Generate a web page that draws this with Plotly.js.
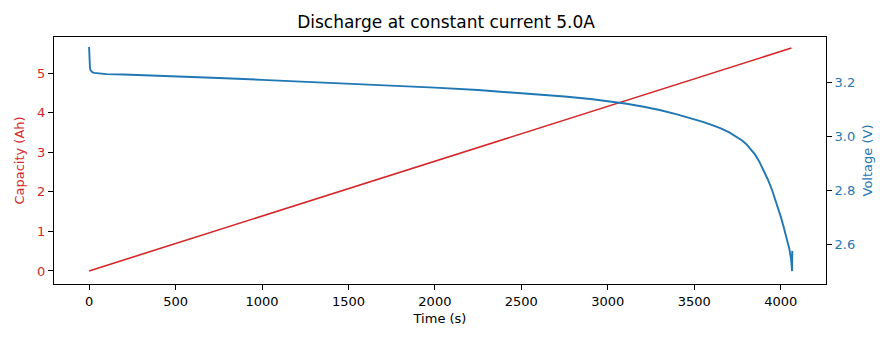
<!DOCTYPE html>
<html>
<head>
<meta charset="utf-8">
<script src="https://cdn.plot.ly/plotly-3.0.1.min.js"></script>
<style>html,body{margin:0;padding:0;background:#fff}#chart{width:892px;height:340px}</style>
</head>
<body>
<div id="chart"></div>
<script>
// Capacity (Ah) vs time (s)
const capTime = [0, 1000, 2000, 3000, 4062];
const capValues = [0, 1.39, 2.78, 4.17, 5.64];

// Voltage (V) vs time (s)
const voltTime = [0, 1, 2, 3, 5, 8, 12, 20, 30, 40, 70, 100, 200, 300, 500, 750, 1000, 1250, 1500, 1750, 2000, 2250, 2500, 2750, 2900, 3000, 3100, 3200, 3300, 3400, 3500, 3550, 3600, 3650, 3700, 3750, 3775, 3800, 3825, 3850, 3875, 3900, 3925, 3950, 3975, 4000, 4015, 4030, 4040, 4050, 4060, 4066, 4067];
const voltValues = [3.332, 3.300, 3.280, 3.266, 3.254, 3.246, 3.242, 3.238, 3.236, 3.235, 3.233, 3.231, 3.230, 3.228, 3.224, 3.217, 3.210, 3.203, 3.196, 3.189, 3.181, 3.172, 3.161, 3.148, 3.139, 3.131, 3.122, 3.111, 3.098, 3.082, 3.064, 3.054, 3.043, 3.031, 3.016, 2.998, 2.986, 2.972, 2.955, 2.934, 2.908, 2.877, 2.841, 2.801, 2.754, 2.703, 2.669, 2.633, 2.608, 2.582, 2.545, 2.500, 2.575];

const xTicks = [0, 500, 1000, 1500, 2000, 2500, 3000, 3500, 4000];
const yTicks = [0, 1, 2, 3, 4, 5];
const y2Ticks = [2.6, 2.8, 3.0, 3.2];

const red = '#d62728', blue = '#1f77b4';
const font = 'DejaVu Sans, sans-serif';

const traces = [
  {x: capTime, y: capValues, type: 'scatter', mode: 'lines', line: {color: red, width: 1.6}, yaxis: 'y', hoverinfo: 'skip'},
  {x: voltTime, y: voltValues, type: 'scatter', mode: 'lines', line: {color: blue, width: 1.9, shape: 'linear'}, yaxis: 'y2', hoverinfo: 'skip'}
];

const layout = {
  width: 892, height: 340,
  margin: {l: 54, r: 66, t: 37, b: 56},
  paper_bgcolor: '#fff', plot_bgcolor: '#fff',
  showlegend: false,
  font: {family: font, size: 13, color: '#000'},
  title: {text: 'Discharge at constant current 5.0A', font: {family: font, size: 17, color: '#000'}, x: 0.5, xanchor: 'center', y: 0.935, yanchor: 'middle'},
  xaxis: {
    range: [-203, 4262], tickvals: xTicks, ticks: 'outside', ticklen: 5, tickwidth: 1, tickcolor: '#000',
    showline: true, linecolor: '#000', linewidth: 1, mirror: true, showgrid: false, zeroline: false,
    title: {text: 'Time (s)', font: {family: font, size: 13, color: '#000'}, standoff: 6}
  },
  yaxis: {
    range: [-0.33, 5.92], tickvals: yTicks, ticks: 'outside', ticklen: 5, tickwidth: 1, tickcolor: '#000',
    showline: true, linecolor: '#000', linewidth: 1, showgrid: false, zeroline: false,
    tickfont: {color: red, size: 13},
    title: {text: 'Capacity (Ah)', font: {family: font, size: 13, color: red}, standoff: 9}
  },
  yaxis2: {
    overlaying: 'y', side: 'right',
    range: [2.452, 3.369], tickvals: y2Ticks, tickformat: '.1f', ticks: 'outside', ticklen: 5, tickwidth: 1, tickcolor: '#000',
    showline: true, linecolor: '#000', linewidth: 1, showgrid: false, zeroline: false,
    tickfont: {color: blue, size: 13},
    title: {text: 'Voltage (V)', font: {family: font, size: 13, color: blue}, standoff: 8}
  }
};

Plotly.newPlot('chart', traces, layout, {staticPlot: true, displayModeBar: false});
</script>
</body>
</html>
